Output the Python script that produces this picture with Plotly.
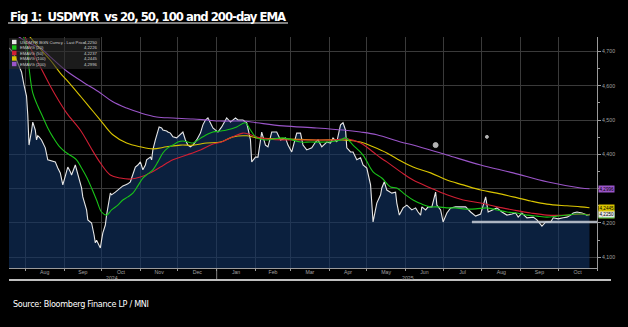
import pandas as pd
import plotly.graph_objects as go

START = "2024-07-19"

# ---- USDMYR daily, day offset from START ----
price_days = [0, 3, 6, 10, 12, 14, 15, 16, 18, 19, 21, 22, 23, 24, 26, 27, 28, 29, 31, 34, 37, 39, 41, 43,
              46, 47, 49, 50, 53, 54, 55, 58, 59, 62, 63, 65, 66, 68, 69, 70, 72, 73, 74, 75, 77, 78, 81,
              82, 85, 87, 89, 91, 93, 95, 97, 99, 101, 103, 105, 107, 109, 110, 113, 114, 115, 117, 118,
              120, 122, 123, 126, 127, 129, 131, 134, 137, 139, 141, 143, 145, 147, 150, 153, 155, 157,
              159, 161, 163, 167, 170, 174, 177, 181, 183, 187, 190, 193, 194, 197, 199, 202, 205, 207,
              210, 214, 217, 221, 223, 226, 230, 233, 235, 238, 242, 245, 247, 250, 254, 257, 259, 262,
              265, 267, 269, 270, 273, 275, 278, 281, 283, 286, 289, 291, 294, 297, 298, 300, 302, 306,
              309, 310, 312, 315, 318, 322, 325, 327, 329, 330, 333, 335, 338, 341, 342, 345, 347, 350,
              353, 357, 361, 365, 369, 373, 377, 379, 381, 383, 386, 390, 394, 398, 402, 405, 407, 410,
              414, 419, 422, 426, 429, 433, 435, 439, 443, 446, 449, 451, 454, 458, 462, 464]
price_vals = [4.710, 4.699, 4.675, 4.640, 4.602, 4.570, 4.515, 4.427, 4.468, 4.494, 4.471, 4.442, 4.454,
              4.451, 4.442, 4.433, 4.427, 4.419, 4.384, 4.381, 4.378, 4.360, 4.346, 4.311, 4.349, 4.363,
              4.349, 4.340, 4.369, 4.355, 4.340, 4.302, 4.276, 4.238, 4.209, 4.203, 4.200, 4.165, 4.142,
              4.150, 4.133, 4.127, 4.150, 4.171, 4.194, 4.223, 4.287, 4.282, 4.290, 4.296, 4.302, 4.308,
              4.311, 4.314, 4.320, 4.340, 4.363, 4.369, 4.378, 4.355, 4.369, 4.384, 4.392, 4.384, 4.413,
              4.442, 4.457, 4.480, 4.477, 4.471, 4.468, 4.465, 4.462, 4.451, 4.448, 4.457, 4.465, 4.442,
              4.427, 4.422, 4.427, 4.442, 4.462, 4.486, 4.500, 4.506, 4.489, 4.477, 4.465, 4.480, 4.506,
              4.494, 4.506, 4.500, 4.500, 4.492, 4.442, 4.378, 4.392, 4.392, 4.465, 4.427, 4.422, 4.465,
              4.465, 4.442, 4.448, 4.427, 4.407, 4.462, 4.462, 4.427, 4.413, 4.419, 4.436, 4.442, 4.422,
              4.436, 4.433, 4.448, 4.436, 4.486, 4.492, 4.471, 4.419, 4.407, 4.407, 4.384, 4.390, 4.369,
              4.360, 4.311, 4.203, 4.258, 4.282, 4.302, 4.320, 4.296, 4.287, 4.290, 4.258, 4.223, 4.244,
              4.252, 4.238, 4.244, 4.232, 4.223, 4.247, 4.238, 4.247, 4.247, 4.290, 4.252, 4.238, 4.203,
              4.229, 4.244, 4.247, 4.247, 4.247, 4.232, 4.220, 4.226, 4.252, 4.276, 4.232, 4.238, 4.244,
              4.232, 4.223, 4.226, 4.229, 4.217, 4.229, 4.215, 4.217, 4.209, 4.191, 4.203, 4.203, 4.215,
              4.212, 4.215, 4.217, 4.223, 4.229, 4.232, 4.229, 4.223, 4.225]

# ---- EMAs ----
ema20_days = [0, 14, 16, 19, 23, 27, 31, 35, 40, 45, 50, 54, 58, 62, 66, 70, 74, 78, 82, 87, 91, 95, 99,
              103, 107, 111, 115, 119, 123, 127, 131, 135, 139, 143, 147, 151, 155, 159, 163, 169, 174,
              182, 189, 193, 198, 206, 219, 233, 241, 254, 265, 269, 275, 283, 291, 298, 305, 310, 317,
              323, 330, 337, 343, 350, 357, 363, 373, 382, 390, 398, 406, 414, 422, 430, 438, 446, 453,
              458, 464]
ema20_vals = [4.840, 4.716, 4.652, 4.579, 4.541, 4.509, 4.477, 4.451, 4.424, 4.407, 4.395, 4.384, 4.360,
              4.334, 4.302, 4.267, 4.232, 4.223, 4.238, 4.252, 4.267, 4.276, 4.287, 4.308, 4.331, 4.343,
              4.355, 4.378, 4.404, 4.419, 4.427, 4.436, 4.439, 4.436, 4.433, 4.442, 4.451, 4.459, 4.465,
              4.468, 4.471, 4.480, 4.492, 4.471, 4.448, 4.442, 4.448, 4.436, 4.436, 4.436, 4.442, 4.448,
              4.427, 4.398, 4.349, 4.331, 4.305, 4.302, 4.282, 4.267, 4.255, 4.247, 4.247, 4.244, 4.244,
              4.241, 4.241, 4.244, 4.238, 4.232, 4.229, 4.223, 4.220, 4.217, 4.220, 4.223, 4.226, 4.226,
              4.2226]

ema50_days = [0, 18, 25, 33, 38, 46, 57, 65, 73, 81, 89, 97, 105, 113, 121, 131, 142, 153, 163, 170, 179,
              187, 193, 201, 219, 233, 259, 270, 281, 291, 297, 302, 313, 323, 337, 350, 363, 377, 390,
              403, 417, 430, 446, 457, 464]
ema50_vals = [4.840, 4.704, 4.655, 4.599, 4.567, 4.521, 4.471, 4.422, 4.375, 4.340, 4.331, 4.328, 4.334,
              4.346, 4.363, 4.384, 4.398, 4.413, 4.430, 4.436, 4.451, 4.462, 4.457, 4.448, 4.442, 4.442,
              4.442, 4.445, 4.433, 4.407, 4.390, 4.378, 4.349, 4.325, 4.302, 4.282, 4.267, 4.258, 4.247,
              4.238, 4.229, 4.223, 4.223, 4.226, 4.2237]

ema100_days = [0, 25, 33, 41, 46, 57, 65, 73, 83, 94, 105, 115, 126, 137, 147, 158, 169, 179, 190, 198,
               219, 246, 267, 281, 291, 302, 310, 323, 337, 350, 363, 377, 390, 403, 417, 430, 446, 457, 464]
ema100_vals = [4.815, 4.707, 4.675, 4.637, 4.617, 4.570, 4.535, 4.500, 4.457, 4.433, 4.422, 4.416, 4.422,
               4.427, 4.427, 4.433, 4.436, 4.451, 4.454, 4.448, 4.445, 4.442, 4.442, 4.436, 4.422, 4.404,
               4.387, 4.363, 4.346, 4.325, 4.311, 4.296, 4.287, 4.276, 4.264, 4.255, 4.250, 4.247, 4.2445]

ema200_days = [0, 14, 26, 33, 46, 59, 73, 83, 94, 105, 118, 131, 147, 158, 169, 187, 198, 219, 246, 267,
               281, 294, 313, 323, 350, 377, 403, 430, 457, 464]
ema200_vals = [4.763, 4.728, 4.707, 4.684, 4.643, 4.611, 4.579, 4.553, 4.535, 4.521, 4.509, 4.506, 4.503,
               4.500, 4.497, 4.497, 4.492, 4.483, 4.477, 4.471, 4.465, 4.457, 4.436, 4.427, 4.398, 4.369,
               4.346, 4.320, 4.302, 4.2996]

# markers drawn on the chart
dot_days = [341, 382]
dot_vals = [4.427, 4.451]
dot_sizes = [5, 3]

support_start_day = 370
support_level = 4.203

legend_names = ["USDMYR BGN Curncy - Last Price", "EMAVG (20)", "EMAVG (50)", "EMAVG (100)", "EMAVG (200)"]
legend_values = ["4,2250", "4,2226", "4,2237", "4,2445", "4,2996"]
last_values = [4.2250, 4.2226, 4.2237, 4.2445, 4.2996]
colors = ["#e6e6e6", "#19c219", "#d11f34", "#d9c400", "#9b55c9"]

y_tick_vals = [4.1, 4.2, 4.3, 4.4, 4.5, 4.6, 4.7]
y_tick_text = ["4,100", "4,200", "", "4,400", "4,500", "4,600", "4,700"]

year_labels = ["2024", "2025"]
year_label_dates = ["2024-10-09", "2025-06-03"]

start = pd.Timestamp(START)
def to_dates(days):
    return start + pd.to_timedelta(days, unit="D")

fig = go.Figure()

fig.add_trace(go.Scatter(
    x=to_dates(price_days), y=price_vals, mode="lines", fill="tozeroy",
    fillcolor="rgba(17,52,100,0.62)", line=dict(color=colors[0], width=1.1), showlegend=False))

for d, v, c in [(ema200_days, ema200_vals, colors[4]), (ema100_days, ema100_vals, colors[3]),
                (ema50_days, ema50_vals, colors[2]), (ema20_days, ema20_vals, colors[1])]:
    fig.add_trace(go.Scatter(x=to_dates(d), y=v, mode="lines", line=dict(color=c, width=1.1, shape="spline"),
                             showlegend=False))

fig.add_trace(go.Scatter(x=to_dates(dot_days), y=dot_vals, mode="markers",
                         marker=dict(color="white", size=dot_sizes), showlegend=False))

x_end = pd.Timestamp("2025-11-01")
fig.add_shape(type="line", xref="x", yref="y", x0=to_dates([support_start_day])[0], x1=x_end,
              y0=support_level, y1=support_level, line=dict(color="rgba(200,206,215,0.85)", width=2.5))

# plot-area geometry: x 9..597 px, y 37..268 px
W, H = 628, 327
L, R, T, B = 9, 597, 37, 268
def px(x):
    return (x - L) / (R - L)
def py(y):
    return (B - y) / (B - T)

SMALL = "Liberation Sans, Arial"
NARROW = "DejaVu Sans Condensed, Liberation Sans Narrow, Arial Narrow"

# legend box
fig.add_shape(type="rect", xref="paper", yref="paper", x0=px(9), x1=px(100), y0=py(69), y1=py(38),
              fillcolor="rgba(45,45,45,0.6)", line=dict(width=0))
rows = [42, 47.5, 53, 58.5, 64]
for name, val, c, ry in zip(legend_names, legend_values, colors, rows):
    fig.add_shape(type="rect", xref="paper", yref="paper", x0=px(12), x1=px(16.5), y0=py(ry + 2.2),
                  y1=py(ry - 2.2), fillcolor=c, line=dict(width=0))
    fig.add_annotation(xref="paper", yref="paper", x=px(18), y=py(ry), text=name, showarrow=False,
                       xanchor="left", yanchor="middle", font=dict(size=4.2, color="#d0d0d0", family=SMALL))
    fig.add_annotation(xref="paper", yref="paper", x=px(99), y=py(ry), text=val, showarrow=False,
                       xanchor="right", yanchor="middle", font=dict(size=4.2, color="#d0d0d0", family=SMALL))

# right-hand last-value boxes (draw in order so white sits above green/red)
for idx in [2, 1, 0, 3, 4]:
    fig.add_annotation(xref="paper", yref="y", x=1.002, y=last_values[idx], text=legend_values[idx],
                       showarrow=False, xanchor="left", yanchor="middle", bgcolor=colors[idx],
                       borderpad=0.5, font=dict(size=4.6, color="black", family=SMALL))

# year labels and separator
for t, d in zip(year_labels, year_label_dates):
    fig.add_annotation(xref="x", yref="paper", x=d, y=py(278), text=t, showarrow=False,
                       xanchor="center", yanchor="middle",
                       font=dict(size=5.2, color="#a0a0a0", family=SMALL))
fig.add_shape(type="line", xref="x", yref="paper", x0="2025-01-01", x1="2025-01-01", y0=py(269),
              y1=py(279), line=dict(color="#a0a0a0", width=0.8))

# title, underline, rule, source
fig.add_annotation(xref="paper", yref="paper", x=px(8), y=py(16),
                   text="<b><span style='letter-spacing:-1px'>Fig 1:  USDMYR  vs 20, 50, 100 and 200-day EMA</span></b>",
                   showarrow=False, xanchor="left", yanchor="middle",
                   font=dict(size=13, color="white", family=NARROW))
fig.add_shape(type="line", xref="paper", yref="paper", x0=px(8), x1=px(288), y0=py(23), y1=py(23),
              line=dict(color="white", width=1.2))
fig.add_shape(type="line", xref="paper", yref="paper", x0=px(9), x1=px(611), y0=py(280), y1=py(280),
              line=dict(color="white", width=1.5))
fig.add_annotation(xref="paper", yref="paper", x=px(11), y=py(304),
                   text="<span style='letter-spacing:-0.3px'>Source: Bloomberg Finance LP / MNI</span>",
                   showarrow=False, xanchor="left", yanchor="middle",
                   font=dict(size=9, color="white", family=NARROW))

fig.update_layout(
    width=W, height=H, autosize=False,
    margin=dict(l=L, r=W - R, t=T, b=H - B),
    paper_bgcolor="black", plot_bgcolor="black",
    showlegend=False,
)
fig.update_xaxes(
    type="date", range=[start, x_end], dtick="M1", tick0="2024-08-01", tickformat="%b",
    ticklabelmode="period", showgrid=True, gridcolor="rgb(58,58,58)", gridwidth=1,
    showline=True, linecolor="#9a9a9a", linewidth=1, ticks="outside", ticklen=2, tickcolor="#9a9a9a",
    ticklabelstandoff=-3,
    tickfont=dict(size=5.2, color="#a0a0a0", family=SMALL), zeroline=False,
)
fig.update_yaxes(
    side="right", range=[4.0688, 4.742], tickmode="array", tickvals=y_tick_vals, ticktext=y_tick_text,
    showgrid=True, gridcolor="rgb(58,58,58)", gridwidth=1, zeroline=False,
    showline=True, linecolor="#9a9a9a", linewidth=1, ticks="outside", ticklen=3, tickcolor="#9a9a9a",
    minor=dict(dtick=0.05, tick0=4.05, ticks="outside", ticklen=2, tickcolor="#9a9a9a", showgrid=False),
    tickfont=dict(size=5.2, color="#a0a0a0", family=SMALL),
)

fig.write_html("out.html")
